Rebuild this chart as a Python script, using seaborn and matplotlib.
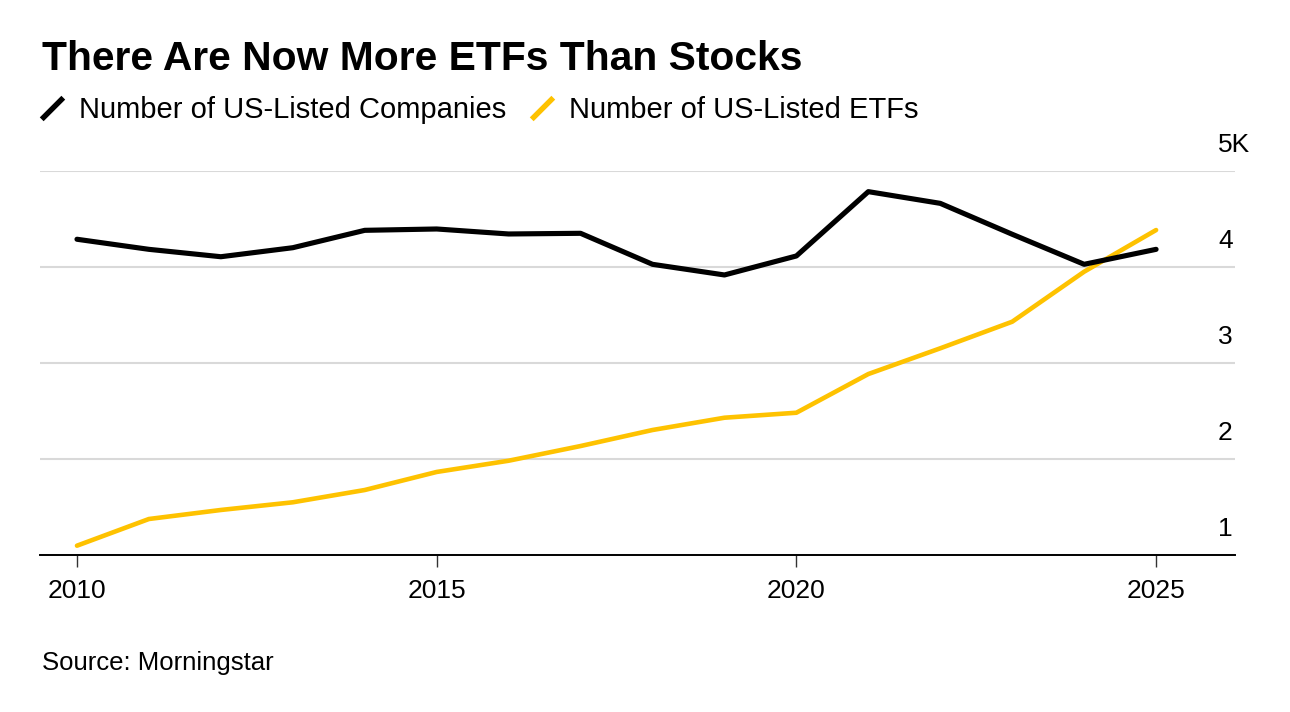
import matplotlib
matplotlib.use("Agg")
import matplotlib.pyplot as plt
import matplotlib.transforms as mtransforms
from matplotlib.lines import Line2D
import pandas as pd
import seaborn as sns

YEARS = list(range(2010, 2026))
COMPANIES = [4289, 4184, 4107, 4201, 4382, 4396, 4344, 4351, 4028, 3917, 4115, 4785, 4663, 4341, 4028, 4184]
ETFS = [1097, 1375, 1469, 1549, 1677, 1865, 1982, 2135, 2302, 2430, 2482, 2885, 3153, 3430, 3951, 4385]
Y_TICKS = [1000, 2000, 3000, 4000, 5000]
Y_LABELS = ["1", "2", "3", "4", "5K"]
X_TICKS = [2010, 2015, 2020, 2025]

BLACK = "#000000"
YELLOW = "#FEC200"
FONT = "Liberation Sans"


def main() -> None:
    sns.set_theme(style="white")
    plt.rcParams["font.family"] = [FONT, "DejaVu Sans"]
    plt.rcParams["text.color"] = BLACK
    plt.rcParams["xtick.color"] = BLACK
    plt.rcParams["ytick.color"] = BLACK

    df = pd.DataFrame({"year": YEARS, "companies": COMPANIES, "etfs": ETFS})

    fig = plt.figure(figsize=(12.9, 7.12), dpi=100)
    ax = fig.add_axes([40 / 1290, 157 / 712, 1195 / 1290, 384 / 712])

    sns.lineplot(data=df, x="year", y="etfs", color=YELLOW, linewidth=3.3, ax=ax, solid_capstyle="round", zorder=3)
    sns.lineplot(data=df, x="year", y="companies", color=BLACK, linewidth=3.7, ax=ax, solid_capstyle="round", zorder=4)

    ax.set_xlim(2009.486, 2026.097)
    ax.set_ylim(1000, 5000)
    ax.set_xlabel("")
    ax.set_ylabel("")

    # x axis: only the bottom line with small ticks
    for side in ("top", "left", "right"):
        ax.spines[side].set_visible(False)
    ax.spines["bottom"].set_color(BLACK)
    ax.spines["bottom"].set_linewidth(1.4)
    ax.spines["bottom"].set_zorder(5)
    ax.set_xticks(X_TICKS)
    ax.set_xticklabels([str(x) for x in X_TICKS])
    ax.tick_params(axis="x", direction="out", length=8.6, width=1.0, color="#333333", labelcolor=BLACK,
                   pad=9, labelsize=19, bottom=True)

    # y axis: labels on the right, sitting above the gridlines
    ax.yaxis.tick_right()
    ax.set_yticks(Y_TICKS)
    ax.set_yticklabels(Y_LABELS)
    ax.tick_params(axis="y", length=0, pad=-12.2, labelsize=19, labelcolor=BLACK)
    offset = mtransforms.ScaledTranslation(0, 0.19, fig.dpi_scale_trans)
    for lab in ax.get_yticklabels():
        lab.set_va("baseline")
        lab.set_transform(lab.get_transform() + offset)
    ax.grid(axis="y", color="#D9D9D9", linewidth=1.5)
    ax.grid(axis="x", visible=False)

    fig.text(42 / 1290, 1 - 70 / 712, "There Are Now More ETFs Than Stocks", fontsize=29.3, fontweight="bold",
             va="baseline", color=BLACK)

    handles = [
        Line2D([], [], linestyle="none", marker=(2, 0, -45), markersize=22, markeredgewidth=3.9, markeredgecolor=BLACK),
        Line2D([], [], linestyle="none", marker=(2, 0, -45), markersize=22, markeredgewidth=3.9, markeredgecolor=YELLOW),
    ]
    fig.legend(handles, ["Number of US-Listed Companies", "Number of US-Listed ETFs"], loc="upper left",
               bbox_to_anchor=(37 / 1290, 1 - 96 / 712), ncol=2, frameon=False, fontsize=21,
               labelcolor=BLACK, handlelength=1.0, handletextpad=0.45, columnspacing=0.7,
               borderpad=0, borderaxespad=0)

    fig.text(42 / 1290, 1 - 670 / 712, "Source: Morningstar", fontsize=18.5, va="baseline", color=BLACK)

    fig.savefig("out.png", dpi=100)


if __name__ == "__main__":
    main()
